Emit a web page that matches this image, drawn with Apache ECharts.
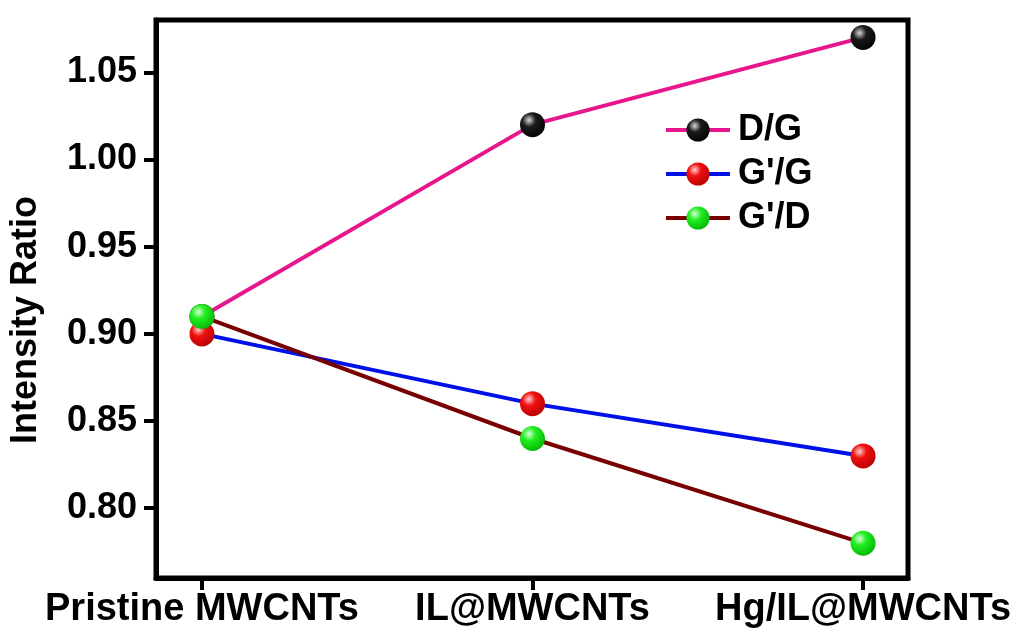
<!DOCTYPE html>
<html>
<head>
<meta charset="utf-8">
<title>Intensity Ratio</title>
<script src="https://cdn.jsdelivr.net/npm/echarts@6/dist/echarts.min.js"></script>
<style>
  html, body { margin: 0; padding: 0; background: #fff; }
  #chart { width: 1016px; height: 635px; }
</style>
</head>
<body>
<div id="chart"></div>
<script>
// Samples along the x axis
const categories = ['Pristine MWCNTs', 'IL@MWCNTs', 'Hg/IL@MWCNTs'];

// Raman intensity ratios per sample
const dG = [0.91, 1.02, 1.07];        // D/G
const gpG = [0.90, 0.86, 0.83];       // G'/G
const gpD = [0.91, 0.84, 0.78];       // G'/D

// Labelled y ticks
const yTicks = [0.80, 0.85, 0.90, 0.95, 1.00, 1.05];

const FONT = '"Liberation Sans", Arial, Helvetica, sans-serif';

// Shaded ball used as the point marker
function ball(light, mid, dark) {
  return {
    type: 'radial', x: 0.36, y: 0.32, r: 0.78,
    colorStops: [
      { offset: 0, color: light },
      { offset: 0.35, color: mid },
      { offset: 1, color: dark }
    ]
  };
}

function series(name, values, lineColor, fill) {
  return {
    name: name,
    type: 'line',
    data: values.map((v, i) => [i, v]),
    symbol: 'circle',
    symbolSize: 25,
    lineStyle: { color: lineColor, width: 4 },
    itemStyle: { color: fill, borderWidth: 0 },
    emphasis: { disabled: true },
    z: 3
  };
}

const chart = echarts.init(document.getElementById('chart'));
chart.setOption({
  animation: false,
  backgroundColor: '#fff',
  grid: {
    left: 154, right: 108, top: 20, bottom: 57,
    show: true, borderColor: '#000', borderWidth: 5, backgroundColor: 'transparent'
  },
  legend: {
    orient: 'vertical',
    left: 659, top: 107,
    itemWidth: 64, itemHeight: 29, itemGap: 8,
    lineStyle: { width: 4 },
    textStyle: { fontFamily: FONT, fontWeight: 'bold', fontSize: 36, lineHeight: 30, color: '#000', padding: [0, 0, 0, 3] },
    data: ['D/G', "G'/G", "G'/D"]
  },
  xAxis: {
    type: 'value',
    min: -0.139, max: 2.136,
    axisLine: { show: true, onZero: false, lineStyle: { color: '#000', width: 5 } },
    axisTick: { show: true, customValues: [0, 1, 2], length: 12, inside: false, lineStyle: { color: '#000', width: 4 } },
    axisLabel: {
      customValues: [0, 1, 2],
      formatter: v => categories[Math.round(v)],
      fontFamily: FONT, fontWeight: 'bold', fontSize: 38, color: '#000', margin: 13
    },
    splitLine: { show: false }
  },
  yAxis: {
    type: 'value',
    min: 0.76, max: 1.08,
    name: 'Intensity Ratio',
    nameLocation: 'middle',
    nameGap: 112,
    nameRotate: 90,
    nameTextStyle: { fontFamily: FONT, fontWeight: 'bold', fontSize: 36, color: '#000', padding: [0, 42, 0, 0] },
    axisLine: { show: true, onZero: false, lineStyle: { color: '#000', width: 5 } },
    axisTick: { show: true, customValues: yTicks, length: 12, inside: false, lineStyle: { color: '#000', width: 4 } },
    axisLabel: {
      customValues: yTicks,
      formatter: v => v.toFixed(2),
      fontFamily: FONT, fontWeight: 'bold', fontSize: 36, color: '#000', margin: 19
    },
    splitLine: { show: false }
  },
  series: [
    series('D/G', dG, '#e8168c', ball('#d8d8d8', '#1a1a1a', '#000')),
    series("G'/G", gpG, '#0010e8', ball('#ffd0d0', '#f01010', '#b00000')),
    series("G'/D", gpD, '#780000', ball('#d8ffd8', '#22ee22', '#00b000'))
  ]
});
</script>
</body>
</html>
